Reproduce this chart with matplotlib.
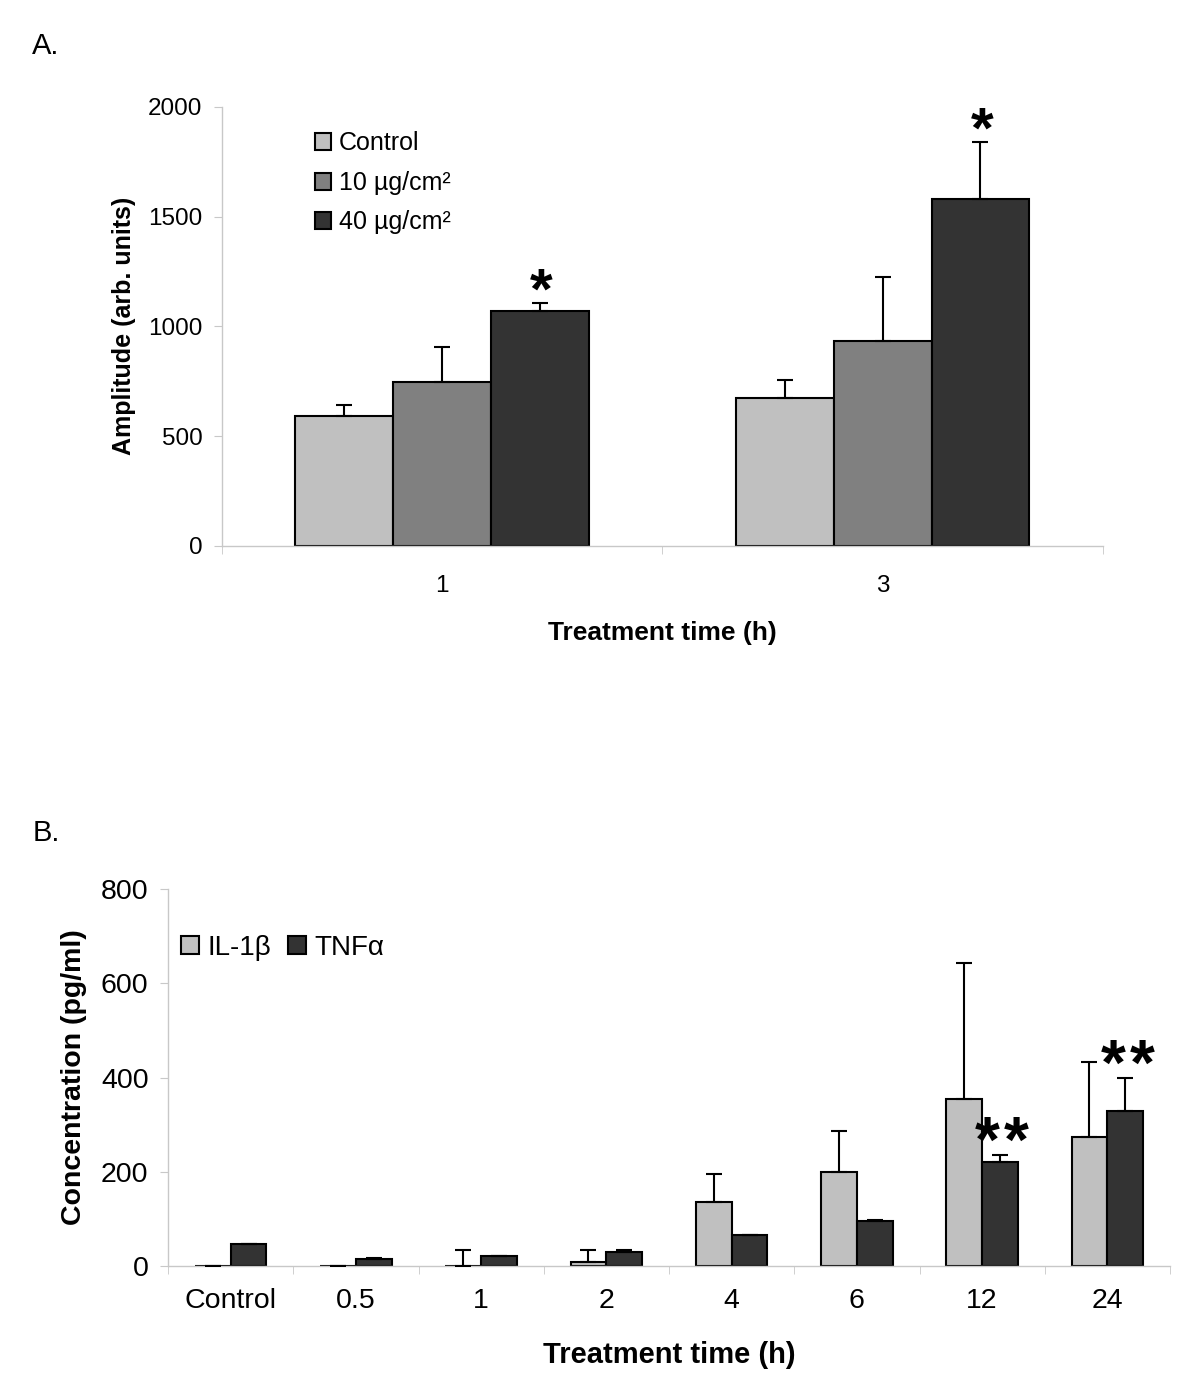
import matplotlib
matplotlib.use("Agg")
import matplotlib.pyplot as plt
import numpy as np
from matplotlib.patches import Patch

plt.rcParams['font.family'] = ['Liberation Sans', 'DejaVu Sans']

# Panel A data
timesA = ["1", "3"]
seriesA = ["Control", "10 µg/cm²", "40 µg/cm²"]
colorsA = ["#c0c0c0", "#808080", "#333333"]
ctrlA = [592, 674]
ctrlA_err = [50, 82]
lowA = [747, 934]
lowA_err = [160, 291]
highA = [1071, 1581]
highA_err = [36, 260]

# Panel B data
timesB = ["Control", "0.5", "1", "2", "4", "6", "12", "24"]
il1b = [1, 1, 0, 9, 136, 199, 354, 274]
il1b_err = [0, 0, 35, 26, 59, 87, 289, 160]
tnfa = [47, 15, 22, 31, 66, 95, 221, 329]
tnfa_err = [0, 3, 0, 3, 0, 3, 15, 71]
starsB = [6, 7]  # categories marked ** on TNFa

GREY = "#c8c8c8"


def style_axes(ax, ncat, fs, pad):
    for s in ["top", "right"]:
        ax.spines[s].set_visible(False)
    for s in ["left", "bottom"]:
        ax.spines[s].set_color(GREY)
        ax.spines[s].set_linewidth(1.0)
    ax.set_xlim(-0.5, ncat - 0.5)
    ax.set_xticks(np.arange(ncat))
    ax.set_xticks(np.arange(ncat + 1) - 0.5, minor=True)
    ax.tick_params(axis="x", which="major", length=0, labelsize=fs, pad=pad)
    ax.tick_params(axis="x", which="minor", length=6, color=GREY, direction="out")
    ax.tick_params(axis="y", length=6, color=GREY, labelsize=fs, pad=8)


fig = plt.figure(figsize=(12, 13.96), dpi=100)

# ---------- Panel A ----------
axA = fig.add_axes([0.185, 0.609, 0.734, 0.3145])
x = np.arange(len(timesA))
w = 1 / 4.5
vals = [ctrlA, lowA, highA]
errs = [ctrlA_err, lowA_err, highA_err]
for i, (v, e, c) in enumerate(zip(vals, errs, colorsA)):
    pos = x + (i - 1) * w
    axA.bar(pos, v, w, color=c, edgecolor="black", linewidth=1.5, zorder=2,
            label=seriesA[i])
    axA.errorbar(pos, v, yerr=[np.zeros(len(v)), e], fmt="none", ecolor="black",
                 elinewidth=1.5, capsize=6, capthick=1.5, zorder=3)
for j in range(len(timesA)):
    axA.annotate("*", (x[j] + w, highA[j] + highA_err[j]), xytext=(1, -4),
                 textcoords="offset points", ha="center", va="baseline",
                 fontsize=42, fontweight="bold")
style_axes(axA, len(timesA), 17.5, 21)
axA.set_xticklabels(timesA)
axA.set_ylim(0, 2000)
axA.set_yticks([0, 500, 1000, 1500, 2000])
axA.set_ylabel("Amplitude (arb. units)", fontsize=18, fontweight="bold", labelpad=9)
axA.set_xlabel("Treatment time (h)", fontsize=19, fontweight="bold", labelpad=17)
handlesA = [Patch(facecolor=c, edgecolor="black", linewidth=1.5) for c in colorsA]
axA.legend(handlesA, seriesA, loc="upper left", bbox_to_anchor=(0.08, 0.995),
           frameon=False, fontsize=18, handlelength=0.65, handleheight=0.65,
           handletextpad=0.3, labelspacing=0.62)

# ---------- Panel B ----------
axB = fig.add_axes([0.14, 0.093, 0.835, 0.2702])
xb = np.arange(len(timesB))
wb = 1 / 3.5
axB.bar(xb - wb / 2, il1b, wb, color="#c0c0c0", edgecolor="black", linewidth=1.5,
        zorder=2)
axB.bar(xb + wb / 2, tnfa, wb, color="#333333", edgecolor="black", linewidth=1.5,
        zorder=2)
axB.errorbar(xb - wb / 2, il1b, yerr=[np.zeros(len(il1b)), il1b_err], fmt="none",
             ecolor="black", elinewidth=1.5, capsize=6, capthick=1.5, zorder=3)
axB.errorbar(xb + wb / 2, tnfa, yerr=[np.zeros(len(tnfa)), tnfa_err], fmt="none",
             ecolor="black", elinewidth=1.5, capsize=6, capthick=1.5, zorder=3)
for j in starsB:
    for dx in (-10.5, 10.5):
        axB.annotate("*", (xb[j] + wb / 2, tnfa[j] + tnfa_err[j]), xytext=(dx + 1.5, -5),
                     textcoords="offset points", ha="center", va="baseline",
                     fontsize=46, fontweight="bold")
style_axes(axB, len(timesB), 20.5, 16)
axB.set_xticklabels(timesB)
axB.set_ylim(0, 800)
axB.set_yticks([0, 200, 400, 600, 800])
axB.set_ylabel("Concentration (pg/ml)", fontsize=20.5, fontweight="bold", labelpad=10)
axB.set_xlabel("Treatment time (h)", fontsize=21, fontweight="bold", labelpad=19)
handlesB = [Patch(facecolor=c, edgecolor="black", linewidth=1.5)
            for c in ["#c0c0c0", "#333333"]]
axB.legend(handlesB, ["IL-1β", "TNFα"], loc="upper left", bbox_to_anchor=(-0.012, 0.945),
           ncol=2, frameon=False, fontsize=20, handlelength=0.65, handleheight=0.65,
           handletextpad=0.3, columnspacing=0.6)

fig.text(0.027, 0.967, "A.", fontsize=21, va="center")
fig.text(0.027, 0.403, "B.", fontsize=21, va="center")

fig.savefig("out.png", dpi=100)
